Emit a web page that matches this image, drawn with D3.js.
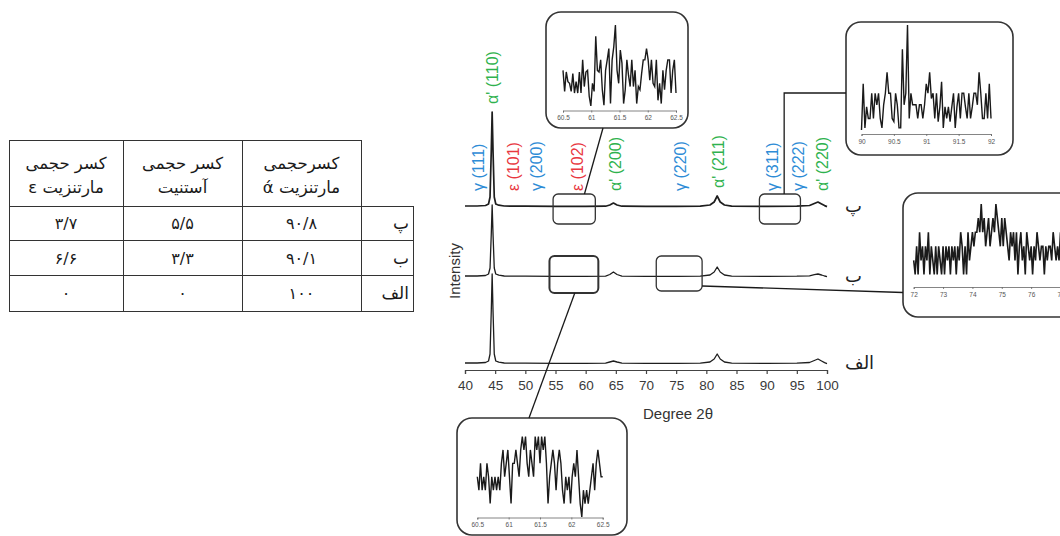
<!DOCTYPE html>
<html>
<head>
<meta charset="utf-8">
<script src="https://cdn.jsdelivr.net/npm/d3@7"></script>
<style>
  body { margin: 0; background: #fff; }
  svg { display: block; }
</style>
</head>
<body>
<svg id="fig" width="1060" height="536"></svg>
<script>
// ---------- Phase fraction table ----------
const tableHeaders = [["کسر حجمی", "مارتنزیت ε"], ["کسر حجمی", "آستنیت"], ["کسرحجمی", "مارتنزیت ά"]];
const sampleNames = ["پ", "ب", "الف"];
const epsilonFraction = ["۳/۷", "۶/۶", "۰"];
const austeniteFraction = ["۵/۵", "۳/۳", "۰"];
const alphaFraction = ["۹۰/۸", "۹۰/۱", "۱۰۰"];

// ---------- XRD patterns: [2θ, intensity (a.u.)] ----------
const patternP = [[40,1],[42,1],[43.4,1.5],[43.9,3],[44.15,10],[44.35,55],[44.5,95],[44.65,55],[44.85,10],[45.1,3],[45.6,1.8],[46.5,1],[50,0.8],[55,0.6],[60,0.6],[63.3,0.8],[64.0,2],[64.6,4],[65.2,2],[66,0.8],[70,0.6],[75,0.6],[79,0.8],[80.6,2],[81.3,5],[81.8,11],[82.3,5],[83,2],[84.2,0.8],[90,0.6],[95,0.8],[97.1,1.5],[97.9,3.5],[98.5,5],[99.1,3],[99.6,1.4],[100,0.4]];
const patternB = [[40,1],[42,1],[43.4,1.5],[43.9,3],[44.15,9],[44.35,42],[44.5,72],[44.65,42],[44.85,9],[45.1,3],[45.6,1.8],[46.5,1],[50,0.8],[55,0.6],[60,0.6],[63.3,0.8],[64.0,2.5],[64.6,5],[65.2,2.5],[66,0.8],[70,0.6],[75,0.6],[79,0.8],[80.6,2],[81.3,5],[81.8,10],[82.3,5],[83,2],[84.2,0.8],[90,0.6],[95,0.8],[97.1,1.2],[97.9,2.4],[98.5,3],[99.1,2],[99.6,1],[100,0.4]];
const patternA = [[40,1],[42,1],[43.4,1.5],[43.9,3],[44.15,10],[44.35,52],[44.5,90],[44.65,52],[44.85,10],[45.1,3],[45.6,1.8],[46.5,1],[50,0.8],[55,0.6],[60,0.6],[63.3,0.8],[64.0,2],[64.6,3],[65.2,2],[66,0.8],[70,0.6],[75,0.6],[79,0.8],[80.6,2],[81.3,5],[81.8,10],[82.3,5],[83,2],[84.2,0.8],[90,0.6],[95,0.8],[97.1,1.5],[97.9,3.5],[98.5,5],[99.1,3],[99.6,1.4],[100,0.4]];

const xTicks = [40, 45, 50, 55, 60, 65, 70, 75, 80, 85, 90, 95, 100];

// ---------- Reflection labels ----------
const peakLabels = ["γ (111)", "α' (110)", "ε (101)", "γ (200)", "ε (102)", "α' (200)", "γ (220)", "α' (211)", "γ (311)", "γ (222)", "α' (220)"];
const peakLabelAngle = [42.3, 44.6, 48.0, 51.8, 58.7, 65.0, 75.7, 82.0, 91.0, 95.3, 99.3];
const peakLabelPhase = ["γ", "α", "ε", "γ", "ε", "α", "γ", "α", "γ", "γ", "α"];

// ---------- Zoomed scan windows (counts, evenly stepped) ----------
const zoomP1Range = [60.5, 62.5];
const zoomP1Ticks = [60.5, 61, 61.5, 62, 62.5];
const zoomP1Counts = [4.4,1.8,4.2,3.0,2.8,1.8,4.0,1.6,3.0,1.6,4.2,1.6,5.7,2.4,4.2,4.4,1.2,0,2.8,1.8,8.6,4.4,4.2,5.7,2.0,0.1,4.4,5.7,7.1,0.3,5.7,7.3,10,4.4,2.8,6.9,5.3,0.3,2.0,5.7,3.8,2.4,5.7,2.4,4.4,0.3,2.4,2.0,4.0,5.7,5.7,7.1,5.7,3.2,5.7,2.8,2.4,5.7,0.7,2.8,0.3,4.4,2.0,4.4,5.7,5.7,1.6,4.4,5.7,1.6];

const zoomP2Range = [90, 92];
const zoomP2Ticks = [90, 90.5, 91, 91.5, 92];
const zoomP2Counts = [0,4.4,0.2,2.2,1.1,1.1,3.5,1.1,3.5,2.4,3.5,1.1,0.2,2.4,3.5,5.5,3.5,3.5,1.1,0.8,3.5,2.4,0.2,0.2,7.7,2.4,3.5,10,1.1,3.5,2.4,2.4,2.4,1.1,2.4,2.4,1.1,2.4,4.4,3.5,5.5,3.0,3.5,1.1,3.5,0.8,2.2,4.6,0.2,2.2,1.1,2.2,0.8,2.2,3.5,0.2,2.2,3.5,1.1,3.5,3.5,2.2,1.1,3.5,1.1,2.2,3.5,3.5,2.4,5.5,3.5,1.1,1.1,3.5,1.1,4.4,1.1];

const zoomB2Range = [72, 77];
const zoomB2Ticks = [72, 73, 74, 75, 76, 77];
const zoomB2Counts = [1,0,2,0,3,1,2,0,2,1,3,0,2,1,0,2,0,2,1,0,2,0,2,1,2,0,2,1,2,0,2,1,3,2,0,2,0,3,1,2,3,2,3,3,4,3,5,3,4,2,3,4,2,3,4,3,5,4,3,2,4,2,4,3,2,1,3,2,3,1,3,0,2,3,1,2,0,3,2,1,2,0,2,1,3,2,1,2,2,0,2,1,2,2,1,3,2,1,2,1,3];

const zoomB1Range = [60.5, 62.5];
const zoomB1Ticks = [60.5, 61, 61.5, 62, 62.5];
const zoomB1Counts = [3,2,4,2,3,2,4,3,1,3,2,3,2,3,2,4,5,3,4,5,3,1,4,4,5,4,3,5,6,5,6,4,3,5,4,3,6,5,6,4,6,5,6,4,1,3,4,5,4,2,4,5,4,2,1,3,2,3,1,3,4,3,5,3,1,0,2,1,2,1,2,3,4,2,4,5,4,3,3];

// ---------- Drawing ----------
const svg = d3.select("#fig");
const latin = "'Liberation Sans', Arial, sans-serif";
const arabic = "'DejaVu Sans', sans-serif";
const phaseColor = { "γ": "#2e8cd6", "α": "#2fb24e", "ε": "#e8383f" };

// Table
(function drawTable() {
  const colX = [9, 123, 242, 361, 413];
  const rowY = [140, 206, 240, 275, 311];
  const g = svg.append("g").attr("stroke", "#333").attr("stroke-width", 1);
  g.append("line").attr("x1", colX[0]).attr("x2", colX[3]).attr("y1", rowY[0] + 0.5).attr("y2", rowY[0] + 0.5);
  rowY.slice(1).forEach(yv => g.append("line").attr("x1", colX[0]).attr("x2", colX[4]).attr("y1", yv + 0.5).attr("y2", yv + 0.5));
  colX.slice(0, 4).forEach(xv => g.append("line").attr("x1", xv + 0.5).attr("x2", xv + 0.5).attr("y1", rowY[0]).attr("y2", rowY[4] + 1));
  g.append("line").attr("x1", colX[4] + 0.5).attr("x2", colX[4] + 0.5).attr("y1", rowY[1]).attr("y2", rowY[4] + 1);

  const t = svg.append("g").attr("fill", "#1a1a1a").style("font-family", arabic);
  tableHeaders.forEach((lines, i) => {
    const cx = (colX[i] + colX[i + 1]) / 2;
    lines.forEach((ln, k) => {
      t.append("text").attr("x", cx).attr("y", 169 + k * 24)
        .attr("text-anchor", "middle").attr("direction", "rtl")
        .style("font-size", "16.5px").text(ln);
    });
  });
  const columns = [epsilonFraction, austeniteFraction, alphaFraction];
  sampleNames.forEach((name, r) => {
    const cy = (rowY[r + 1] + rowY[r + 2]) / 2;
    columns.forEach((col, c) => {
      t.append("text").attr("x", (colX[c] + colX[c + 1]) / 2).attr("y", cy + 6)
        .attr("text-anchor", "middle").style("font-size", "16px").text(col[r]);
    });
    t.append("text").attr("x", colX[4] - 4).attr("y", cy + 6)
      .attr("text-anchor", "end").style("font-size", "17px").text(name);
  });
})();

// Main diffractogram
const x = d3.scaleLinear().domain([40, 100]).range([465, 827]);
const y = d3.scaleLinear().domain([0, 260]).range([364, 104]);
const stacks = [
  { name: "الف", data: patternA, offset: 0, width: 1.3 },
  { name: "ب", data: patternB, offset: 87, width: 1.3 },
  { name: "پ", data: patternP, offset: 157, width: 1.7 }
];
stacks.forEach(s => {
  const line = d3.line().x(d => x(d[0])).y(d => y(d[1] + s.offset));
  svg.append("path").datum(s.data).attr("d", line)
    .attr("fill", "none").attr("stroke", "#1e1e1e").attr("stroke-width", s.width)
    .attr("stroke-linejoin", "round");
  svg.append("text").attr("x", 845).attr("y", y(s.offset) + 5)
    .style("font-family", arabic).style("font-size", "18px").attr("fill", "#222").text(s.name);
});

const axis = d3.axisBottom(x).tickValues(xTicks).tickSize(4).tickSizeOuter(4).tickPadding(6);
const ax = svg.append("g").attr("transform", "translate(0,370)").call(axis);
ax.selectAll("path,line").attr("stroke", "#444").attr("stroke-width", 1.2);
ax.selectAll("text").style("font-family", latin).style("font-size", "13.5px").attr("fill", "#3a3a3a");

svg.append("text").attr("x", 678).attr("y", 419).attr("text-anchor", "middle")
  .style("font-family", latin).style("font-size", "15px").attr("fill", "#333").text("Degree 2θ");
svg.append("text").attr("transform", "translate(460,271) rotate(-90)").attr("text-anchor", "middle")
  .style("font-family", latin).style("font-size", "15px").attr("fill", "#333").text("Intensity");

// Reflection labels sit just above the top pattern
const topStack = stacks[2];
peakLabels.forEach((lab, i) => {
  const a = peakLabelAngle[i];
  const near = topStack.data.filter(d => Math.abs(d[0] - a) < 0.4).map(d => d[1]);
  const localMax = d3.max(near.concat([1]));
  const bottom = Math.min(191, y(localMax + topStack.offset) - 8);
  svg.append("text")
    .attr("transform", `translate(${x(a)},${bottom}) rotate(-90)`)
    .attr("dy", "0.35em")
    .style("font-family", latin).style("font-size", "16px")
    .attr("fill", phaseColor[peakLabelPhase[i]]).text(lab);
});

// Marked regions on the patterns
function regionBox(stack, a0, a1, up, down, sw) {
  const x0 = x(a0), x1 = x(a1);
  const yb = y(stack.offset);
  svg.append("rect").attr("x", x0).attr("y", yb - up).attr("width", x1 - x0).attr("height", up + down)
    .attr("rx", 5).attr("fill", "none").attr("stroke", "#333").attr("stroke-width", sw);
  return { x0, x1, top: yb - up, bottom: yb + down };
}
const rP1 = regionBox(stacks[2], 54.6, 61.6, 13, 17, 1.3);
const rP2 = regionBox(stacks[2], 88.8, 95.6, 13, 17, 1.3);
const rB1 = regionBox(stacks[1], 54.0, 62.1, 21, 16, 2);
const rB2 = regionBox(stacks[1], 71.7, 79.3, 21, 14, 1.3);

// Zoomed windows
function zoomPanel(cfg) {
  const g = svg.append("g");
  g.append("rect").attr("x", cfg.box[0]).attr("y", cfg.box[1]).attr("width", cfg.box[2]).attr("height", cfg.box[3])
    .attr("rx", 15).attr("fill", "#fff").attr("stroke", "#333").attr("stroke-width", 1.6);
  const zx = d3.scaleLinear().domain(cfg.range).range([cfg.plot[0], cfg.plot[1]]);
  const zy = d3.scaleLinear().domain([0, cfg.maxCount]).range([cfg.plot[2], cfg.plot[3]]);
  const n = cfg.counts.length;
  const step = (cfg.range[1] - cfg.range[0]) / (n - 1);
  const pts = cfg.counts.map((c, i) => [cfg.range[0] + i * step, c]);
  g.append("path").datum(pts)
    .attr("d", d3.line().x(d => zx(d[0])).y(d => zy(d[1])))
    .attr("fill", "none").attr("stroke", "#1a1a1a").attr("stroke-width", cfg.lw || 1.4);
  const za = g.append("g").attr("transform", `translate(0,${cfg.axisY})`)
    .call(d3.axisBottom(zx).tickValues(cfg.ticks).tickSize(2).tickSizeOuter(2).tickPadding(3)
      .tickFormat(d3.format("")));
  za.selectAll("path,line").attr("stroke", "#666").attr("stroke-width", 0.8);
  za.selectAll("text").style("font-family", latin).style("font-size", "6.5px").attr("fill", "#555");
}

zoomPanel({ box: [546, 12, 142, 116], plot: [563, 676, 106, 25], axisY: 110.5, range: zoomP1Range, ticks: zoomP1Ticks, counts: zoomP1Counts, maxCount: 10 });
zoomPanel({ box: [846, 22, 167, 133], plot: [861.5, 991, 130, 25], axisY: 134, range: zoomP2Range, ticks: zoomP2Ticks, counts: zoomP2Counts, maxCount: 10 });
zoomPanel({ box: [903, 193, 175, 124], plot: [913.7, 1060.5, 274.5, 204], axisY: 287, range: zoomB2Range, ticks: zoomB2Ticks, counts: zoomB2Counts, maxCount: 5, lw: 1.6 });
zoomPanel({ box: [457, 418, 170, 117], plot: [477.3, 602.7, 517, 436.5], axisY: 517.5, range: zoomB1Range, ticks: zoomB1Ticks, counts: zoomB1Counts, maxCount: 6 });

// Leader lines from marked regions to their windows
const lead = svg.append("g").attr("stroke", "#1a1a1a").attr("stroke-width", 1.3).attr("fill", "none");
lead.append("line").attr("x1", 603).attr("y1", 128).attr("x2", x(59.8)).attr("y2", rP1.top);
lead.append("polyline").attr("points", `${x(92.9)},${rP2.top} ${x(92.9)},93 846,93`);
lead.append("line").attr("x1", rB2.x1).attr("y1", 286).attr("x2", 903).attr("y2", 292.5);
lead.append("line").attr("x1", x(58.2)).attr("y1", rB1.bottom).attr("x2", 529).attr("y2", 418);
</script>
</body>
</html>
